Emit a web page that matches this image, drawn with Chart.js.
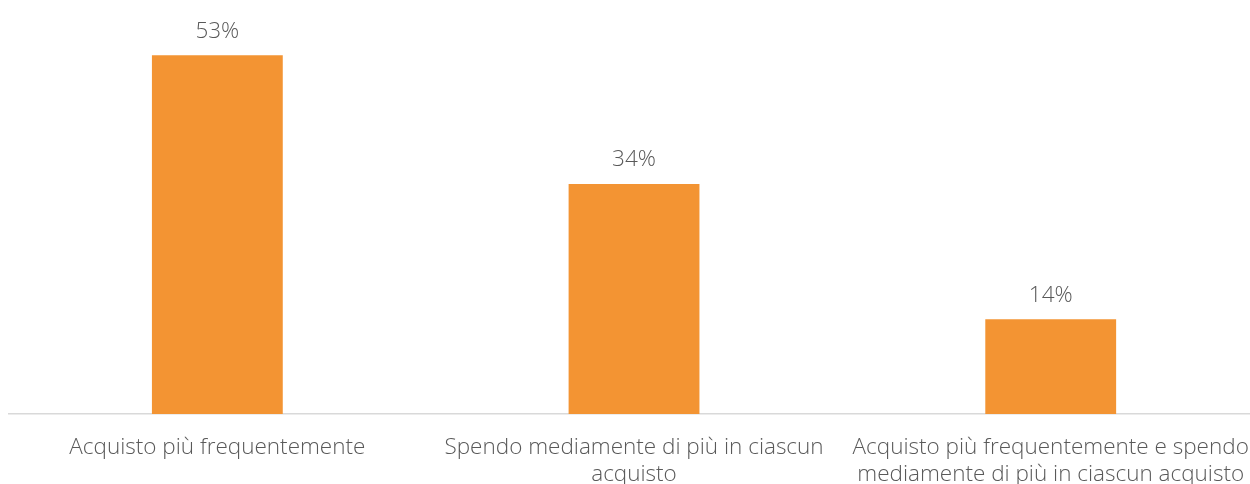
<!DOCTYPE html>
<html>
<head>
<meta charset="utf-8">
<script src="https://cdn.jsdelivr.net/npm/chart.js@4"></script>
<style>
  html, body { margin: 0; padding: 0; background: #fff; overflow: hidden; }
  /* the original chart runs past the right edge, so the box is a bit wider than the window */
  #box { position: relative; width: 1269px; height: 484px; }
</style>
</head>
<body>
<div id="box"><canvas id="chart"></canvas></div>
<script>
var categorie = [
  'Acquisto più frequentemente',
  ['Spendo mediamente di più in ciascun', 'acquisto'],
  ['Acquisto più frequentemente e spendo', 'mediamente di più in ciascun acquisto']
];
var valori = [53, 34, 14];

var arancio = '#F39433';
var grigio = '#595959';
var font = "'Open Sans', 'Liberation Sans', sans-serif";

// etichette sopra le barre
var etichette = {
  id: 'etichette',
  afterDatasetsDraw: function(chart) {
    var ctx = chart.ctx;
    var meta = chart.getDatasetMeta(0);
    ctx.save();
    ctx.font = '300 22.5px ' + font;
    ctx.fillStyle = grigio;
    ctx.textAlign = 'center';
    ctx.textBaseline = 'middle';
    meta.data.forEach(function(bar, i) {
      ctx.fillText(valori[i] + '%', bar.x, bar.y - 24);
    });
    ctx.restore();
  }
};

new Chart(document.getElementById('chart'), {
  type: 'bar',
  plugins: [etichette],
  data: {
    labels: categorie,
    datasets: [{
      data: valori,
      backgroundColor: arancio,
      borderWidth: 0,
      barPercentage: 1,
      categoryPercentage: 0.314
    }]
  },
  options: {
    responsive: true,
    maintainAspectRatio: false,
    animation: false,
    layout: { padding: { top: 8, left: 9, right: 1, bottom: -24 } },
    plugins: { legend: { display: false }, tooltip: { enabled: false } },
    scales: {
      y: { display: false, min: 0, max: 60 },
      x: {
        grid: { display: false, drawTicks: false },
        border: { color: '#D9D9D9', width: 1.5 },
        ticks: {
          autoSkip: false,
          maxRotation: 0,
          padding: 20,
          color: grigio,
          font: { family: font, size: 22.5, weight: 300, lineHeight: 1.2 }
        }
      }
    }
  }
});
</script>
</body>
</html>
